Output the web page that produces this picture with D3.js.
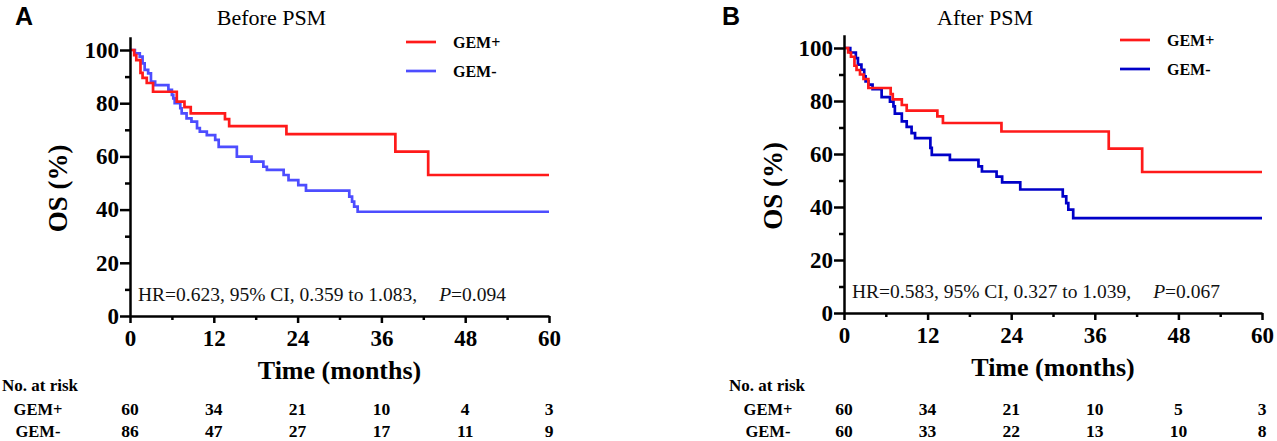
<!DOCTYPE html>
<html>
<head>
<meta charset="utf-8">
<script src="https://cdn.jsdelivr.net/npm/d3@7"></script>
<style>
  html, body { margin: 0; padding: 0; background: #fff; }
  svg { display: block; }
</style>
</head>
<body>
<svg id="chart" width="1277" height="441"></svg>
<script>
// ---- data ----
const riskMonths = [0, 12, 24, 36, 48, 60];
const groupNames = ['GEM+', 'GEM-'];
const yTicks = [0, 20, 40, 60, 80, 100];
const yMinorTicks = [10, 30, 50, 70, 90];
const xMinorTicks = [6, 18, 30, 42, 54];

// before PSM
const beforePlusTime = [0, 0.6, 0.9, 1.5, 1.8, 2.4, 3.3, 6.7, 7.8, 8.7, 13.6, 14.2, 22.4, 38.0, 42.7, 60];
const beforePlusSurv = [100, 98.1, 96.2, 91.4, 89.5, 87.6, 84.3, 80.6, 78.5, 76.2, 74.0, 71.4, 68.4, 61.8, 53.0, 53.0];
const beforeMinusTime = [0, 0.7, 1.4, 1.8, 2.1, 2.6, 3.0, 3.6, 5.5, 6.0, 6.2, 6.4, 7.2, 7.4, 8.1, 8.8, 9.6, 10.0, 11.0, 12.2, 12.7, 15.3, 17.4, 19.1, 19.6, 22.0, 22.7, 24.1, 25.2, 31.4, 31.8, 32.1, 32.6, 60];
const beforeMinusSurv = [100, 98.7, 97.5, 95.0, 92.5, 91.2, 88.1, 86.8, 85.0, 83.1, 81.8, 80.0, 78.1, 76.2, 74.3, 73.1, 70.6, 69.3, 68.0, 66.2, 63.6, 59.9, 58.0, 56.1, 54.9, 53.0, 51.1, 49.2, 47.1, 44.9, 43.0, 41.1, 39.2, 39.2];
const beforeRiskPlus = [60, 34, 21, 10, 4, 3];
const beforeRiskMinus = [86, 47, 27, 17, 11, 9];

// after PSM
const afterPlusTime = [0, 0.6, 1.0, 1.5, 1.8, 2.3, 2.8, 3.5, 6.7, 7.0, 8.3, 9.0, 13.4, 14.2, 22.6, 38.0, 42.8, 60];
const afterPlusSurv = [100, 98.3, 96.7, 93.3, 91.7, 90.0, 88.3, 84.9, 82.6, 80.6, 78.5, 76.4, 74.2, 71.7, 68.5, 62.0, 53.2, 53.2];
const afterMinusTime = [0, 0.9, 1.7, 2.0, 2.5, 2.9, 3.1, 3.5, 4.1, 5.4, 6.6, 7.1, 7.3, 8.3, 9.0, 9.7, 10.2, 12.4, 12.6, 15.2, 19.3, 19.8, 21.9, 22.7, 25.3, 31.4, 31.9, 32.2, 32.9, 60];
const afterMinusSurv = [100, 98.3, 96.2, 93.7, 91.8, 89.3, 87.4, 86.2, 84.5, 81.5, 79.8, 78.0, 75.2, 72.3, 70.2, 67.9, 66.0, 62.3, 59.7, 57.8, 55.3, 53.4, 51.5, 49.3, 46.6, 44.0, 41.5, 39.0, 35.8, 35.8];
const afterRiskPlus = [60, 34, 21, 10, 5, 3];
const afterRiskMinus = [60, 33, 22, 13, 10, 8];

const serif = '"Liberation Serif", "Times New Roman", serif';
const sans = '"Liberation Sans", Arial, sans-serif';

const panels = [
  {
    letter: 'A', title: 'Before PSM', left: 130, right: 549, bottom: 316, top100: 50,
    letterX: 15, riskLabelX: 2, groupLabelX: 38, yTitleX: 58,
    legendX: 406,
    hr: ['HR=0.623, 95% CI, 0.359 to 1.083,', '0.094'],
    series: [
      {time: beforePlusTime, surv: beforePlusSurv, color: '#ff1a1a'},
      {time: beforeMinusTime, surv: beforeMinusSurv, color: '#4d4dff'}
    ],
    risk: [beforeRiskPlus, beforeRiskMinus]
  },
  {
    letter: 'B', title: 'After PSM', left: 844, right: 1262, bottom: 313, top100: 48,
    letterX: 722, riskLabelX: 729, groupLabelX: 768, yTitleX: 773,
    legendX: 1120,
    hr: ['HR=0.583, 95% CI, 0.327 to 1.039,', '0.067'],
    series: [
      {time: afterPlusTime, surv: afterPlusSurv, color: '#ff1a1a'},
      {time: afterMinusTime, surv: afterMinusSurv, color: '#0000c8'}
    ],
    risk: [afterRiskPlus, afterRiskMinus]
  }
];

const svg = d3.select('#chart');

panels.forEach(p => {
  const g = svg.append('g');
  const x = d3.scaleLinear().domain([0, 60]).range([p.left, p.right]);
  const k = (p.bottom - p.top100) / 100;
  const y = d3.scaleLinear().domain([0, 105]).range([p.bottom, p.bottom - 105 * k]);

  // panel letter + title
  g.append('text').attr('x', p.letterX).attr('y', 25)
    .style('font-family', sans).style('font-weight', 'bold').style('font-size', '25px')
    .text(p.letter);
  g.append('text').attr('x', (p.left + p.right) / 2 - 68).attr('y', 25)
    .attr('text-anchor', 'middle')
    .style('font-family', serif).style('font-size', '22px')
    .text(p.title);

  // curves
  const line = d3.line()
    .x(d => x(d[0]))
    .y(d => y(d[1]))
    .curve(d3.curveStepAfter);
  p.series.slice().reverse().forEach(s => {
    g.append('path')
      .datum(d3.zip(s.time, s.surv))
      .attr('d', line)
      .attr('fill', 'none')
      .attr('stroke', s.color)
      .attr('stroke-width', 2.7);
  });

  // y axis
  const yAxisG = g.append('g').attr('transform', 'translate(' + p.left + ',0)')
    .call(d3.axisLeft(y).tickValues(yTicks).tickSize(10).tickSizeOuter(0).tickPadding(1));
  g.append('g').attr('transform', 'translate(' + p.left + ',0)')
    .call(d3.axisLeft(y).tickValues(yMinorTicks).tickSize(5).tickSizeOuter(0).tickFormat(''))
    .select('.domain').remove();

  // x axis
  const xAxisG = g.append('g').attr('transform', 'translate(0,' + p.bottom + ')')
    .call(d3.axisBottom(x).tickValues(riskMonths).tickSize(7).tickSizeOuter(0).tickPadding(7));
  g.append('g').attr('transform', 'translate(0,' + p.bottom + ')')
    .call(d3.axisBottom(x).tickValues(xMinorTicks).tickSize(4).tickSizeOuter(0).tickFormat(''))
    .select('.domain').remove();

  g.selectAll('.domain, .tick line')
    .attr('stroke', '#000')
    .attr('stroke-width', 2.5);
  [yAxisG, xAxisG].forEach(a => a.selectAll('text')
    .attr('fill', '#000')
    .style('font-family', serif)
    .style('font-weight', 'bold')
    .style('font-size', '23px'));

  // axis titles
  g.append('text')
    .attr('transform', 'translate(' + p.yTitleX + ',' + y(48) + ') rotate(-90)')
    .attr('text-anchor', 'middle').attr('dominant-baseline', 'central')
    .style('font-family', serif).style('font-weight', 'bold').style('font-size', '27px')
    .text('OS (%)');
  g.append('text')
    .attr('x', (p.left + p.right) / 2).attr('y', p.bottom + 63)
    .attr('text-anchor', 'middle')
    .style('font-family', serif).style('font-weight', 'bold').style('font-size', '26px')
    .text('Time (months)');

  // legend
  p.series.forEach((s, i) => {
    const ly = p.top100 - 8 + i * 29;
    g.append('line')
      .attr('x1', p.legendX).attr('x2', p.legendX + 30)
      .attr('y1', ly).attr('y2', ly)
      .attr('stroke', s.color).attr('stroke-width', 2.7);
    g.append('text')
      .attr('x', p.legendX + 47).attr('y', ly + 6)
      .style('font-family', serif).style('font-weight', 'bold').style('font-size', '16px')
      .text(groupNames[i]);
  });

  // hazard ratio annotation
  const hr = g.append('text')
    .attr('x', p.left + 8).attr('y', p.bottom - 15)
    .style('font-family', serif).style('font-size', '19.5px')
    .attr('fill', '#111');
  hr.append('tspan').text(p.hr[0]);
  hr.append('tspan').attr('dx', 22).style('font-style', 'italic').text('P');
  hr.append('tspan').text('=' + p.hr[1]);

  // number at risk table
  g.append('text')
    .attr('x', p.riskLabelX).attr('y', 391)
    .style('font-family', serif).style('font-weight', 'bold').style('font-size', '16px')
    .attr('textLength', 76).attr('lengthAdjust', 'spacingAndGlyphs')
    .text('No. at risk');
  p.risk.forEach((row, i) => {
    const ry = 415 + i * 22;
    g.append('text')
      .attr('x', p.groupLabelX).attr('y', ry)
      .attr('text-anchor', 'middle')
      .style('font-family', serif).style('font-weight', 'bold').style('font-size', '16.5px')
      .text(groupNames[i]);
    g.selectAll(null)
      .data(d3.zip(riskMonths, row))
      .join('text')
      .attr('x', d => x(d[0]))
      .attr('y', ry)
      .attr('text-anchor', 'middle')
      .style('font-family', serif).style('font-weight', 'bold').style('font-size', '17.5px')
      .text(d => d[1]);
  });
});
</script>
</body>
</html>
